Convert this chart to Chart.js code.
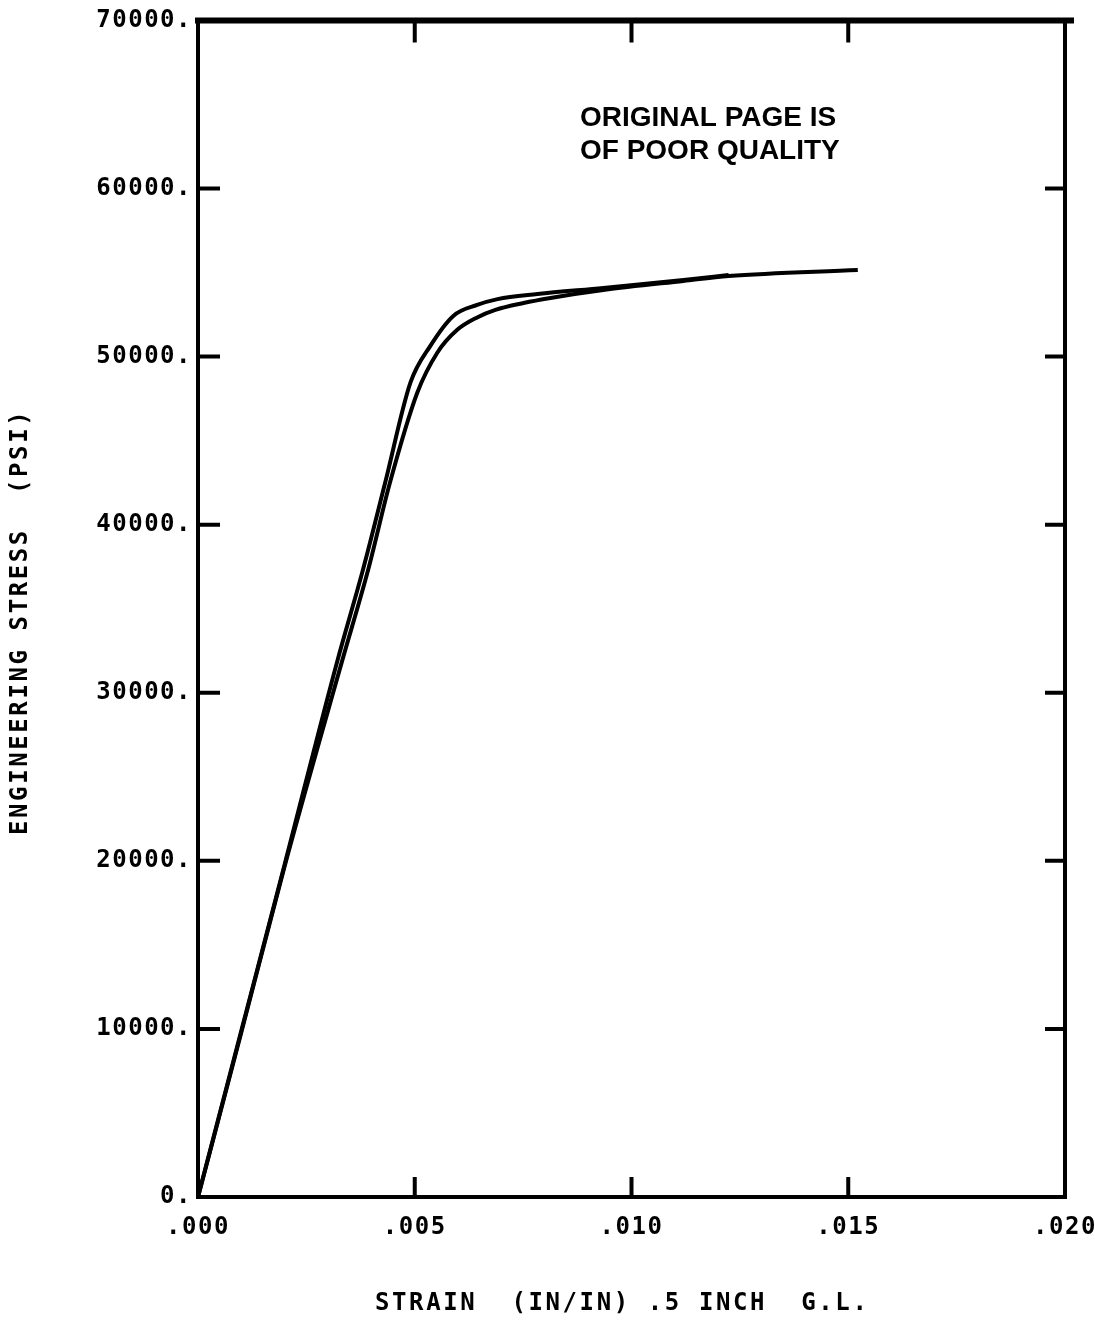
<!DOCTYPE html>
<html lang="en">
<head>
  <meta charset="UTF-8">
  <title>Engineering stress vs strain</title>
  <style>
    html, body { margin: 0; padding: 0; background: #fff; }
    #wrap { width: 1095px; height: 1326px; position: relative; }
  </style>
</head>
<body>
<script src="https://cdn.jsdelivr.net/npm/chart.js"></script>
<div id="wrap"><canvas id="myChart"></canvas></div>

<script>
  // curve 1 (outer, stops at about .0122)
  const strainA = [0, 0.0010, 0.0020, 0.00321, 0.00381, 0.00432, 0.00490, 0.00536, 0.00589, 0.00644, 0.00691, 0.00783, 0.00935, 0.01120, 0.01224];
  const stressA = [0, 9900, 19800, 31850, 37360, 42520, 48450, 50640, 52420, 53070, 53420, 53720, 54080, 54560, 54850];

  // curve 2 (inner, runs on to about .0152)
  const strainB = [0, 0.0010, 0.0020, 0.00332, 0.00393, 0.00443, 0.00506, 0.00552, 0.00598, 0.00644, 0.00686, 0.00751, 0.00813, 0.00935, 0.01120, 0.01224, 0.01522];
  const stressB = [0, 9800, 19700, 31850, 37360, 42520, 47860, 50230, 51590, 52330, 52780, 53190, 53490, 53960, 54500, 54790, 55150];

  const xTicks = [0, 0.005, 0.010, 0.015, 0.020];
  const xTickLabels = ['.000', '.005', '.010', '.015', '.020'];
  const yTicks = [0, 10000, 20000, 30000, 40000, 50000, 60000, 70000];
  const yTickLabels = ['0.', '10000.', '20000.', '30000.', '40000.', '50000.', '60000.', '70000.'];

  const xTitle = 'STRAIN  (IN/IN) .5 INCH  G.L.';
  const yTitle = 'ENGINEERING STRESS  (PSI)';
  const stampLines = ['ORIGINAL PAGE IS', 'OF POOR QUALITY'];

  const monoFont = { family: '"DejaVu Sans Mono", monospace', size: 24, weight: 'bold' };

  function toPoints(xs, ys) {
    return xs.map((x, i) => ({ x: x, y: ys[i] }));
  }

  // frame, inward ticks, axis titles and the stamp
  const plotterFrame = {
    id: 'plotterFrame',
    beforeDraw(chart) {
      // the plotter font is a little wider than DejaVu Sans Mono
      chart.ctx.letterSpacing = '1.5px';
    },
    afterDraw(chart) {
      const ctx = chart.ctx;
      const a = chart.chartArea;
      const xs = chart.scales.x;
      const ys = chart.scales.y;
      ctx.save();
      ctx.strokeStyle = '#000';
      ctx.lineCap = 'square';

      ctx.lineWidth = 4;
      ctx.strokeRect(a.left, a.top, a.right - a.left, a.bottom - a.top);
      ctx.lineWidth = 6;
      ctx.beginPath();
      ctx.moveTo(a.left, a.top);
      ctx.lineTo(a.right + 6, a.top);
      ctx.stroke();

      ctx.lineWidth = 4;
      ctx.lineCap = 'butt';
      yTicks.slice(1, -1).forEach(v => {
        const py = ys.getPixelForValue(v);
        ctx.beginPath();
        ctx.moveTo(a.left, py);
        ctx.lineTo(a.left + 22, py);
        ctx.moveTo(a.right, py);
        ctx.lineTo(a.right - 20, py);
        ctx.stroke();
      });
      xTicks.slice(1, -1).forEach(v => {
        const px = xs.getPixelForValue(v);
        ctx.beginPath();
        ctx.moveTo(px, a.bottom);
        ctx.lineTo(px, a.bottom - 20);
        ctx.moveTo(px, a.top);
        ctx.lineTo(px, a.top + 22);
        ctx.stroke();
      });

      ctx.fillStyle = '#000';
      ctx.font = 'bold 24px "DejaVu Sans Mono", monospace';
      ctx.textBaseline = 'middle';
      ctx.textAlign = 'left';
      ctx.letterSpacing = '2.6px';
      ctx.fillText(xTitle, 375, 1304);

      ctx.save();
      ctx.translate(21, 835);
      ctx.rotate(-Math.PI / 2);
      ctx.fillText(yTitle, 0, 0);
      ctx.restore();

      ctx.letterSpacing = '0px';
      ctx.font = 'bold 28px "Liberation Sans", Arial, sans-serif';
      ctx.textBaseline = 'alphabetic';
      ctx.fillText(stampLines[0], 580, 126, 262);
      ctx.fillText(stampLines[1], 580, 159, 262);
      ctx.restore();
      ctx.letterSpacing = '0px';
    }
  };

  const config = {
    type: 'scatter',
    data: {
      datasets: [{
        label: 'curve 1',
        data: toPoints(strainA, stressA),
        showLine: true,
        borderColor: '#000',
        borderWidth: 4,
        pointRadius: 0,
        cubicInterpolationMode: 'monotone'
      }, {
        label: 'curve 2',
        data: toPoints(strainB, stressB),
        showLine: true,
        borderColor: '#000',
        borderWidth: 4,
        pointRadius: 0,
        cubicInterpolationMode: 'monotone'
      }]
    },
    options: {
      responsive: true,
      maintainAspectRatio: false,
      animation: false,
      layout: { padding: { top: 20, right: 30, left: 0, bottom: 0 } },
      plugins: {
        legend: { display: false },
        tooltip: { enabled: false }
      },
      scales: {
        x: {
          type: 'linear',
          min: 0,
          max: 0.02,
          afterFit: scale => {
            scale.height = 129;
            scale.paddingLeft = 0;
            scale.paddingRight = 0;
          },
          afterBuildTicks: scale => { scale.ticks = xTicks.map(v => ({ value: v })); },
          grid: { display: false, drawTicks: false },
          border: { display: false },
          ticks: {
            color: '#000',
            font: monoFont,
            padding: 16,
            maxRotation: 0,
            autoSkip: false,
            callback: (v, i) => xTickLabels[i]
          }
        },
        y: {
          type: 'linear',
          min: 0,
          max: 70000,
          afterFit: scale => { scale.width = 198; },
          afterBuildTicks: scale => { scale.ticks = yTicks.map(v => ({ value: v })); },
          grid: { display: false, drawTicks: false },
          border: { display: false },
          ticks: {
            color: '#000',
            font: monoFont,
            padding: 6,
            autoSkip: false,
            callback: (v, i) => yTickLabels[i]
          }
        }
      }
    },
    plugins: [plotterFrame]
  };

  new Chart(document.getElementById('myChart'), config);
</script>
</body>
</html>
